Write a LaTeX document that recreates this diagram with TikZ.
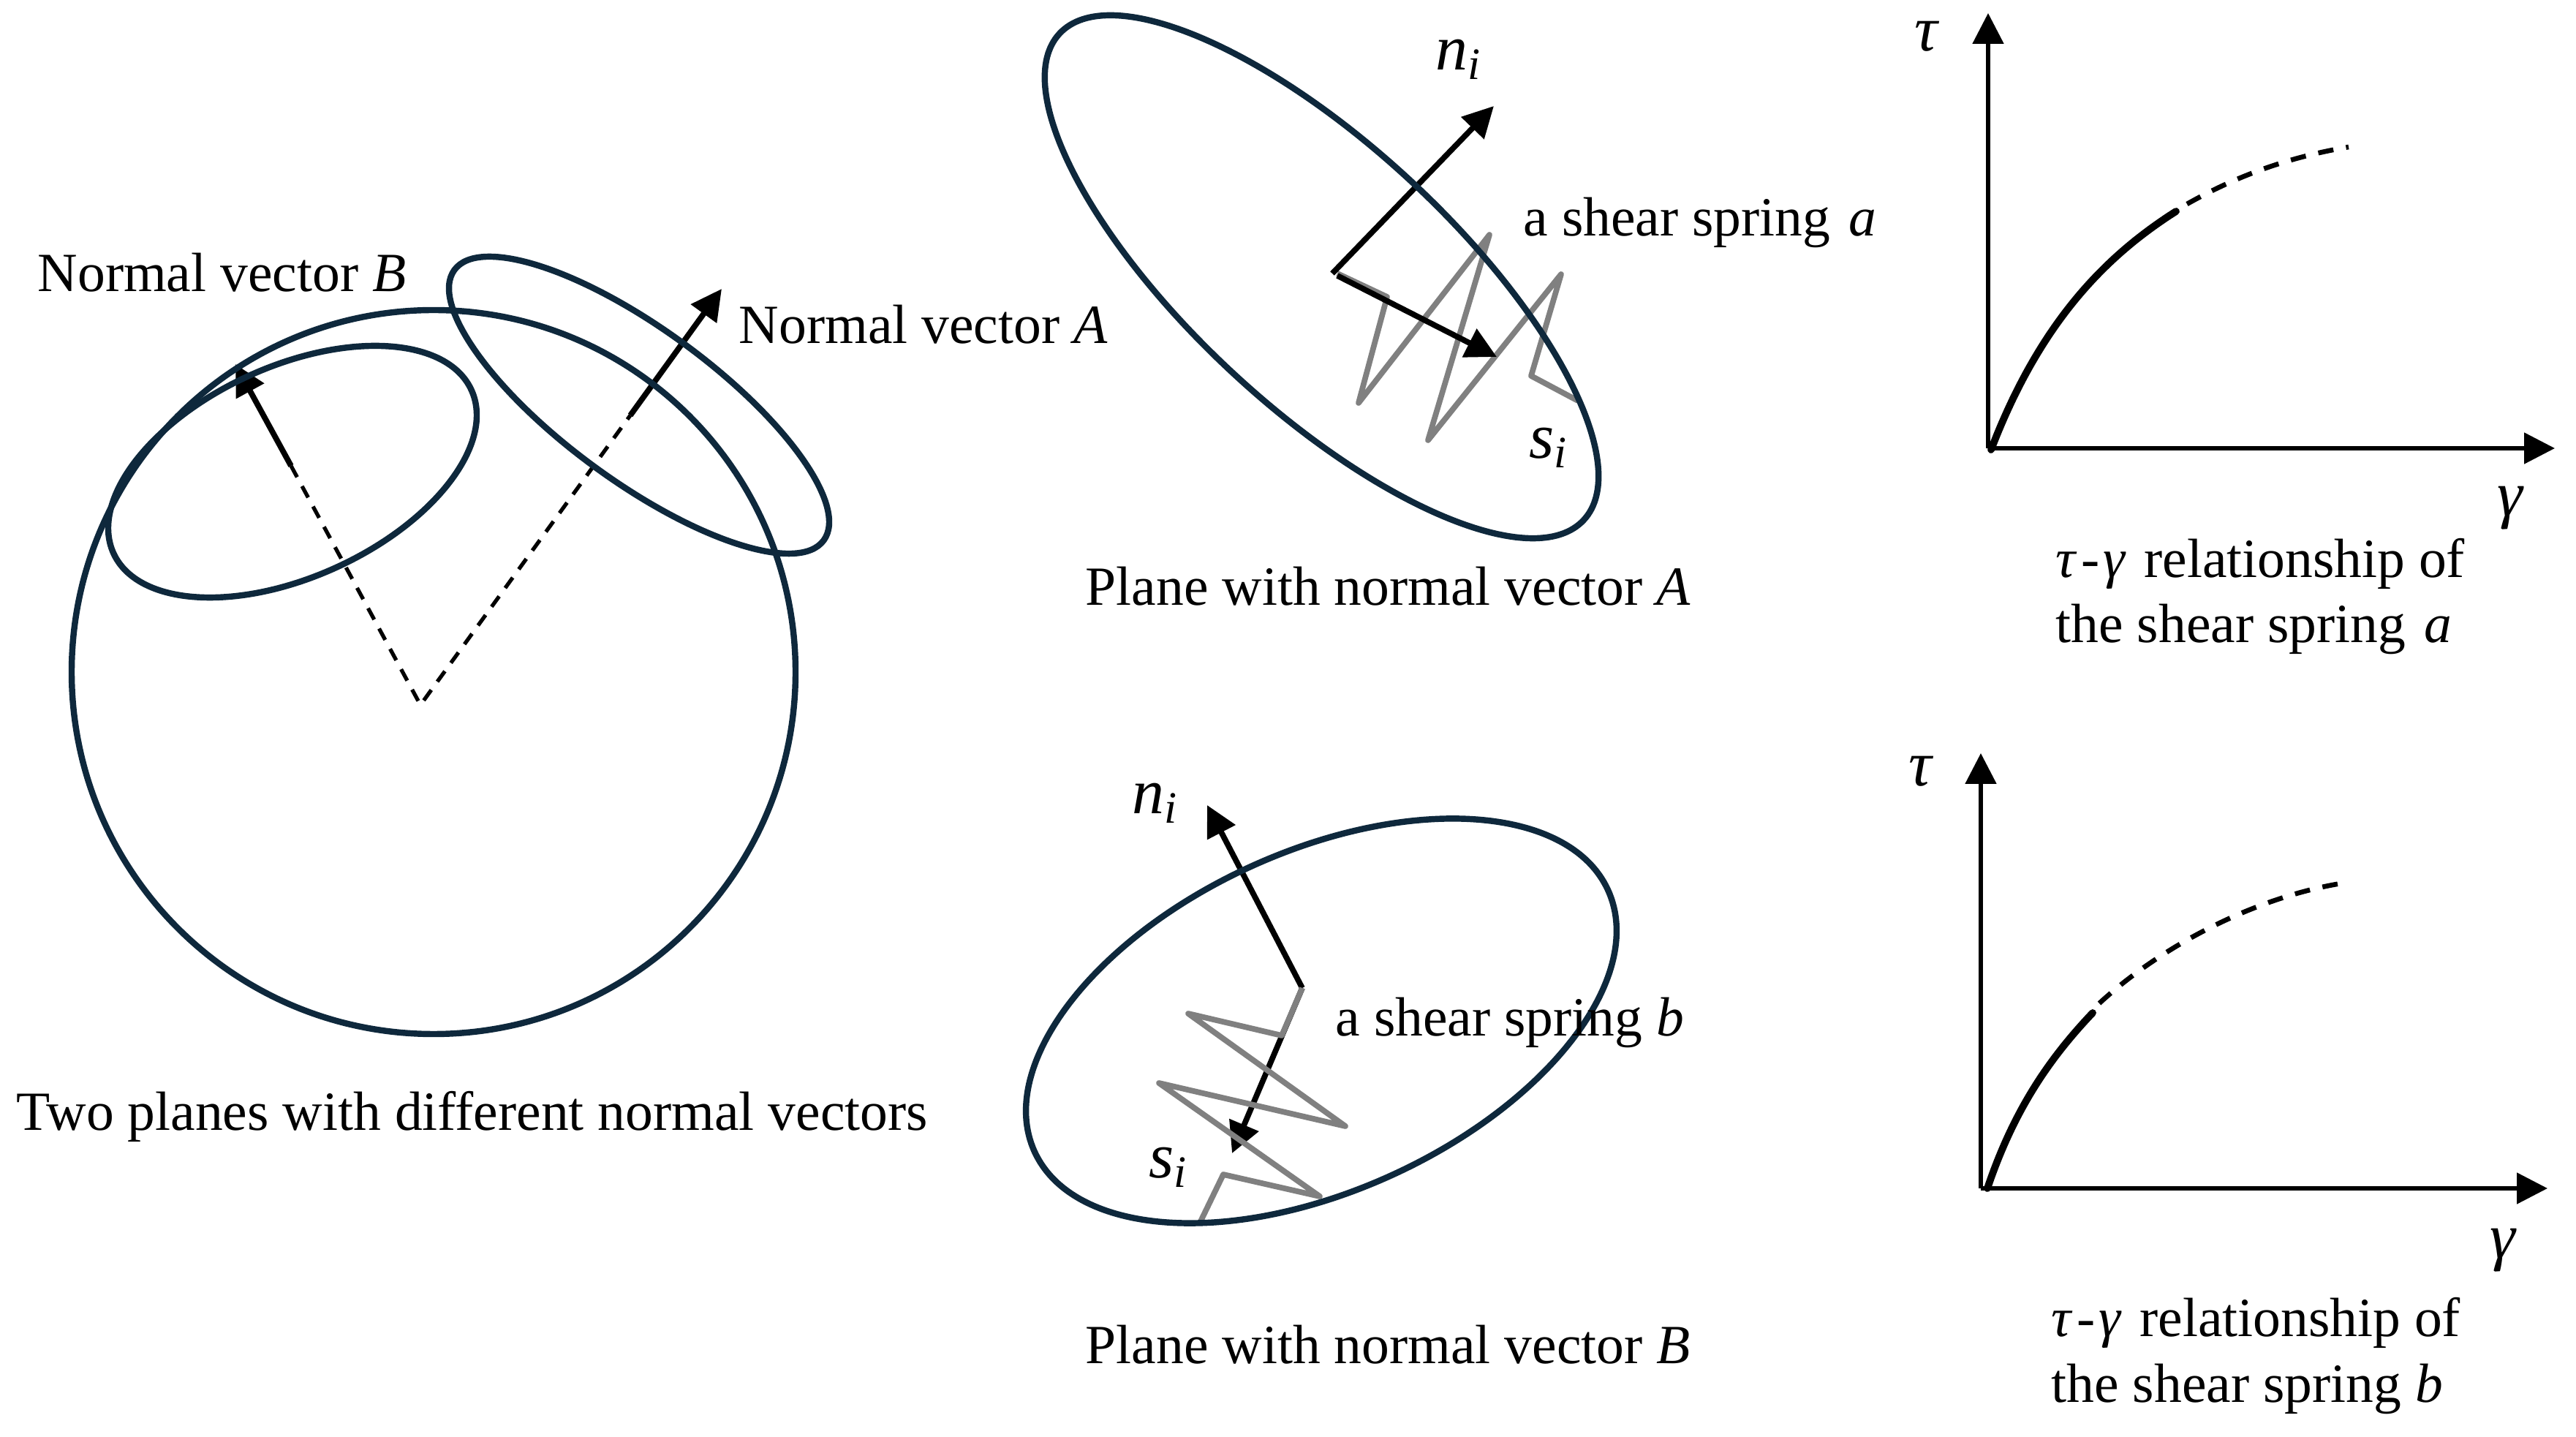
\documentclass[tikz,border=0pt]{standalone}
\usepackage{fontspec}
\usepackage{amsmath}
\usepackage{tikz}
\usepackage{xcolor}
\usetikzlibrary{arrows.meta}
\setmainfont{Liberation Serif}
\definecolor{planenavy}{RGB}{14,40,60}
\definecolor{springgray}{RGB}{128,128,128}
\newcommand{\subvar}[2]{\textit{#1}\textsubscript{\textit{#2}}}
\newcommand{\taugamma}{\textit{τ}\kern0.07em-\kern0.07em\textit{γ}\kern0.07em}
\tikzset{
    lbl/.style={font=\fontsize{21.5}{25.9}\selectfont, inner sep=0pt, anchor=base west},
    sym/.style={font=\fontsize{25}{28}\selectfont, inner sep=0pt},
    plane/.style={line width=2.4pt, planenavy},
    spring/.style={line width=2.2pt, springgray, line join=round},
    vec/.style={line width=2.2pt, black, -{Triangle[length=4.2mm,width=4.2mm]}},
    axis/.style={line width=1.5pt, black, -{Triangle[length=4.2mm,width=4.2mm]}},
    dashline/.style={line width=1.5pt, black, dash pattern=on 5pt off 4pt},
    curvebold/.style={line width=2.8pt, black, line cap=round},
    curvedash/.style={line width=1.9pt, black, dash pattern=on 6pt off 5pt}
}
\begin{document}
\begin{tikzpicture}[scale=1]
    \useasboundingbox (0,0) rectangle (35.23,19.65);

    \coordinate (apex) at (5.75,10.01);
    \coordinate (breakB) at (3.98,13.28);
    \coordinate (tipB) at (3.22,14.67);
    \coordinate (breakA) at (8.62,13.97);
    \coordinate (tipA) at (9.87,15.70);
    \draw[dashline] (breakB) -- (apex) -- (breakA);
    \draw[vec] (breakB) -- (tipB);
    \draw[vec] (breakA) -- (tipA);
    \draw[plane] (5.93,10.46) circle (4.95);
    \draw[plane] (4.00,13.20) ellipse [x radius=2.69, y radius=1.44, rotate=24.5];
    \draw[plane] (8.74,14.11) ellipse [x radius=3.13, y radius=1.04, rotate=-36.2];
    \node[lbl] (labelB) at (0.51,15.66) {Normal vector \textit{B}};
    \node[lbl] (labelA) at (10.10,14.95) {Normal vector \textit{A}};
    \node[lbl] (labelTwo) at (0.22,4.19) {Two planes with different normal vectors};

    \coordinate (originA) at (18.22,15.91);
    \coordinate (normalA) at (20.43,18.20);
    \coordinate (sstartA) at (18.29,15.88);
    \coordinate (shearA) at (20.47,14.77);
    \draw[spring] (18.29,15.91) -- (18.97,15.59) -- (18.58,14.14) -- (20.37,16.44) -- (19.53,13.63) -- (21.35,15.90) -- (20.94,14.51) -- (21.58,14.17);
    \draw[vec] (originA) -- (normalA);
    \draw[vec] (sstartA) -- (shearA);
    \draw[plane] (18.075,15.865) ellipse [x radius=4.89, y radius=1.79, rotate=-42.85];
    \node[sym] (nA) at (19.95,18.84) {\subvar{n}{i}};
    \node[sym] (sA) at (21.18,13.53) {\subvar{s}{i}};
    \node[lbl] (springA) at (20.83,16.42) {a shear spring \kern0.08em\textit{a}};
    \node[lbl] (planeA) at (14.84,11.37) {Plane with normal vector \textit{A}};

    \coordinate (originB) at (17.81,6.14);
    \coordinate (normalB) at (16.51,8.64);
    \coordinate (shearB) at (16.85,3.88);
    \draw[vec] (originB) -- (normalB);
    \draw[vec] (originB) -- (shearB);
    \draw[spring] (17.81,6.14) -- (17.53,5.49) -- (16.25,5.79) -- (18.40,4.25) -- (15.85,4.84) -- (18.05,3.29) -- (16.73,3.59) -- (16.42,2.95);
    \draw[plane] (18.07,5.69) ellipse [x radius=4.31, y radius=2.32, rotate=24.5];
    \node[sym] (nB) at (15.80,8.67) {\subvar{n}{i}};
    \node[sym] (sB) at (15.98,3.69) {\subvar{s}{i}};
    \node[lbl] (springB) at (18.26,5.48) {a shear spring \textit{b}};
    \node[lbl] (planeB) at (14.84,1.00) {Plane with normal vector \textit{B}};

    \coordinate (zeroA) at (27.19,13.52);
    \coordinate (tauA) at (27.19,19.47);
    \coordinate (gammaA) at (34.94,13.52);
    \draw[axis] (zeroA) -- (tauA);
    \draw[axis] (zeroA) -- (gammaA);
    \draw[curvebold] (27.23,13.50) .. controls (27.90,15.25) and (28.80,16.15) .. (29.76,16.76);
    \draw[curvedash] (29.91,16.86) .. controls (30.60,17.25) and (31.30,17.50) .. (32.12,17.64);
    \node[sym] (tauLabelA) at (26.36,19.15) {\textit{τ}};
    \node[sym] (gammaLabelA) at (34.34,12.70) {\textit{γ}};
    \node[lbl] (capA) at (28.11,11.75) {\taugamma{} relationship of};
    \node[lbl] (capAb) at (28.11,10.86) {the shear spring \kern0.08em\textit{a}};

    \coordinate (zeroB) at (27.09,3.40);
    \coordinate (tauB) at (27.09,9.35);
    \coordinate (gammaB) at (34.84,3.40);
    \draw[axis] (zeroB) -- (tauB);
    \draw[axis] (zeroB) -- (gammaB);
    \draw[curvebold] (27.18,3.40) .. controls (27.55,4.50) and (28.05,5.20) .. (28.62,5.80);
    \draw[curvedash] (28.71,5.93) .. controls (29.60,6.75) and (30.90,7.40) .. (32.08,7.58);
    \node[sym] (tauLabelB) at (26.28,9.10) {\textit{τ}};
    \node[sym] (gammaLabelB) at (34.24,2.55) {\textit{γ}};
    \node[lbl] (capB) at (28.05,1.37) {\taugamma{} relationship of};
    \node[lbl] (capBb) at (28.05,0.47) {the shear spring \textit{b}};
\end{tikzpicture}
\end{document}
